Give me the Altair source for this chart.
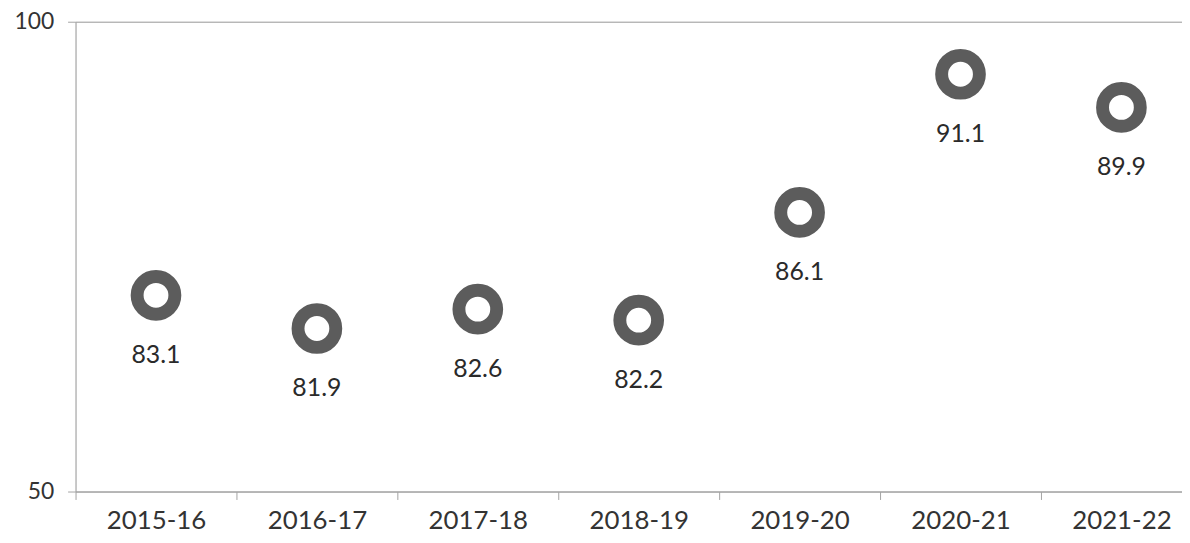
import altair as alt
import pandas as pd

years = ["2015-16", "2016-17", "2017-18", "2018-19", "2019-20", "2020-21", "2021-22"]
values = [83.1, 81.9, 82.6, 82.2, 86.1, 91.1, 89.9]
labels = ["83.1", "81.9", "82.6", "82.2", "86.1", "91.1", "89.9"]

# visible axis range of the reference (labelled 50 and 100 at its ends)
y_domain = [76, 93]
y_tick_text = ["50", "100"]

df = pd.DataFrame({"year": years, "value": values, "label": labels})

font = "Lato"
ring_color = "#5c5c5c"
axis_color = "#a3a3a3"

x_enc = alt.X(
    "year:N",
    sort=years,
    scale=alt.Scale(range=[0, 1134], paddingInner=0, paddingOuter=0),
    axis=alt.Axis(
        title=None,
        labelAngle=0,
        tickBand="extent",
        tickSize=8,
        tickColor=axis_color,
        domainColor=axis_color,
        labelFontSize=26,
        labelFont=font,
        labelColor="#333333",
        labelPadding=8,
        grid=False,
    ),
)

y_enc = alt.Y(
    "value:Q",
    scale=alt.Scale(domain=y_domain, nice=False, zero=False),
    axis=alt.Axis(
        title=None,
        values=y_domain,
        labelExpr=f"datum.value == {y_domain[0]} ? '{y_tick_text[0]}' : '{y_tick_text[1]}'",
        tickSize=8,
        tickColor=axis_color,
        domainColor=axis_color,
        gridColor=axis_color,
        grid=True,
        labelFontSize=23,
        labelFont=font,
        labelColor="#333333",
        labelPadding=14,
    ),
)

base = alt.Chart(df).encode(x=x_enc, y=y_enc)

points = base.mark_point(
    shape="circle", filled=False, size=1444, strokeWidth=13, color=ring_color, opacity=1
)

texts = base.mark_text(
    dy=60, fontSize=25, font=font, color="#2a2a2a", baseline="middle"
).encode(text="label:N")

chart = (
    alt.layer(points, texts)
    .properties(
        width=1114,
        height=473,
        autosize=alt.AutoSizeParams(type="none"),
        padding={"left": 68, "top": 12, "right": 0, "bottom": 48},
    )
    .configure_view(stroke=None)
    .configure(background="white")
)

chart.save("out.html", embed_options={"renderer": "svg", "actions": False})
